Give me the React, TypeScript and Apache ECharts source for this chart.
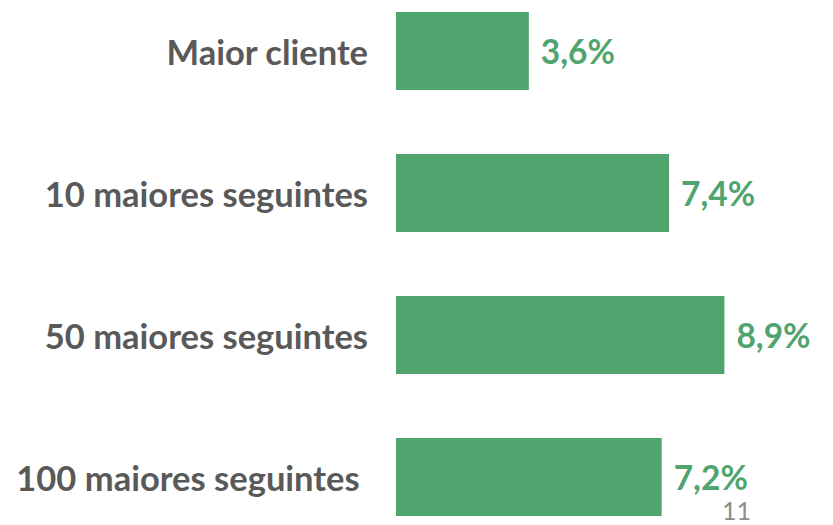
import React, { useEffect, useRef } from "react";
import * as echarts from "echarts";

const categories = ["Maior cliente", "10 maiores seguintes", "50 maiores seguintes", "100 maiores seguintes "];
const values = [3.6, 7.4, 8.9, 7.2];
const pageNumber = "11";

export default function App() {
  const ref = useRef<HTMLDivElement>(null);
  useEffect(() => {
    if (!ref.current) return;
    const chart = echarts.init(ref.current, null, { renderer: "svg" });
    chart.setOption({
      animation: false,
      backgroundColor: "#ffffff",
      grid: { left: 396, top: 51, width: 369, height: 426, containLabel: false },
      xAxis: { type: "value", min: 0, max: 10, show: false },
      yAxis: {
        type: "category",
        data: categories,
        inverse: true,
        boundaryGap: false,
        axisLine: { show: false },
        axisTick: { show: false },
        splitLine: { show: false },
        axisLabel: {
          margin: 28,
          fontSize: 34.5,
          fontWeight: "bold",
          fontFamily: "Lato",
          color: "#595959",
        },
      },
      series: [
        {
          type: "bar",
          data: values,
          barWidth: 78,
          itemStyle: { color: "#50A46E" },
          label: {
            show: true,
            position: "right",
            distance: 12,
            fontSize: 33.5,
            fontWeight: "bold",
            fontFamily: "Lato",
            color: "#50A46E",
            formatter: (p: any) => String(p.value).replace(".", ",") + "%",
          },
        },
      ],
      graphic: [
        {
          type: "text",
          left: 722,
          top: 497,
          style: { text: pageNumber, fontSize: 25, fontFamily: "Lato", fill: "#8c8c8c" },
        },
      ],
    });
    return () => chart.dispose();
  }, []);
  return <div ref={ref} style={{ position: "absolute", left: 0, top: 0, width: 833, height: 525 }} />;
}
